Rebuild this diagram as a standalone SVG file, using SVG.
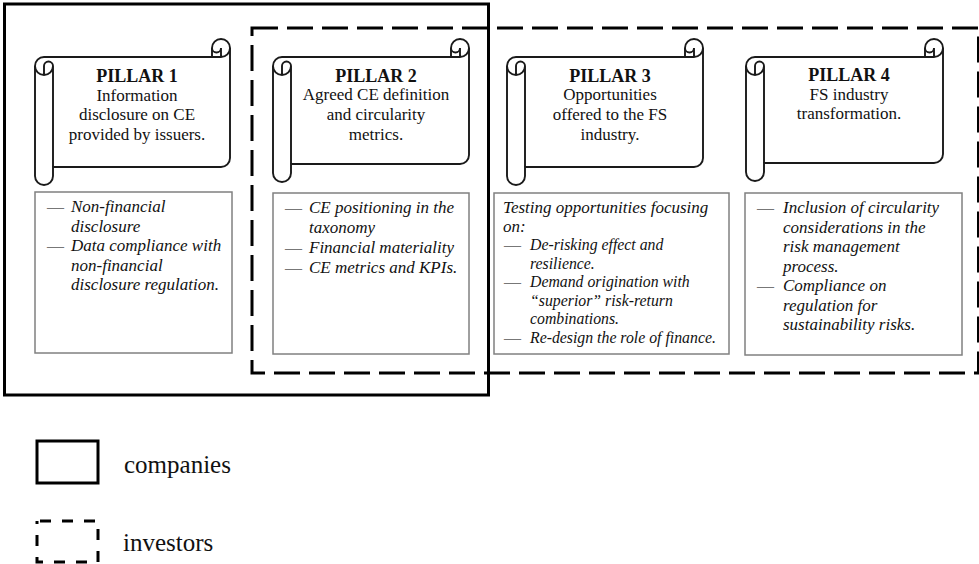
<svg xmlns="http://www.w3.org/2000/svg" width="979" height="564" viewBox="0 0 979 564">
<style>
.scroll{fill:#fff;stroke:#1a1a1a;stroke-width:1.9;stroke-linejoin:round}
.curl{fill:none;stroke:#1a1a1a;stroke-width:1.9}
.box{fill:#fff;stroke:#808080;stroke-width:1.5}
.solid{fill:none;stroke:#000;stroke-width:3}
.dashed{fill:none;stroke:#000;stroke-width:3;stroke-dasharray:26 9}
.title{font-family:"Liberation Serif",serif;font-weight:bold;font-size:18px;text-anchor:middle;fill:#111}
.sub{font-family:"Liberation Serif",serif;font-size:17px;text-anchor:middle;fill:#111}
.it{font-family:"Liberation Serif",serif;font-style:italic;font-size:17px;fill:#111}
.it2{font-family:"Liberation Serif",serif;font-style:italic;font-size:15.8px;fill:#111}
.dash{font-family:"Liberation Serif",serif;font-size:17px;fill:#777}
.leg{font-family:"Liberation Serif",serif;font-size:25px;fill:#111}
</style>
<rect width="979" height="564" fill="#fff"/>

<g id="investors-box">
<rect class="dashed" x="252" y="28" width="726.5" height="345"/>
</g>
<g id="companies-box">
<rect class="solid" x="4.5" y="4" width="484" height="391"/>
</g>

<g id="pillar1">
<g transform="translate(35,39)">
<path class="scroll" d="M0,27 A9,9 0 0 1 9,18 L177,18 L177,9 A9,9 0 0 1 195,9 L195,119 A9,9 0 0 1 186,128 L18,128 L18,137 A9,9 0 0 1 0,137 Z"/>
<path class="curl" d="M177,18 L186,18 A9,9 0 0 0 195,9 M186,18 L186,9 A4.5,4.5 0 0 1 177,9 M9,36 L9,27 A4.5,4.5 0 0 1 18,27 A9,9 0 0 1 0,27 M18,27 L18,128"/>
</g>
<text class="title" x="137" y="82">PILLAR 1</text>
<text class="sub" x="137" y="101">Information</text>
<text class="sub" x="137" y="120">disclosure on CE</text>
<text class="sub" x="137" y="140">provided by issuers.</text>
</g>

<g id="pillar1-detail">
<rect class="box" x="35" y="192" width="197" height="161"/>
<text class="dash" x="47" y="212">—</text>
<text class="it" x="71" y="212">Non-financial</text>
<text class="it" x="71" y="231.5">disclosure</text>
<text class="dash" x="47" y="251">—</text>
<text class="it" x="71" y="251">Data compliance with</text>
<text class="it" x="71" y="270.5">non-financial</text>
<text class="it" x="71" y="290">disclosure regulation.</text>
</g>

<g id="pillar2">
<g transform="translate(273,39)">
<path class="scroll" d="M0,27 A9,9 0 0 1 9,18 L178,18 L178,9 A9,9 0 0 1 196,9 L196,116 A9,9 0 0 1 187,125 L18,125 L18,134 A9,9 0 0 1 0,134 Z"/>
<path class="curl" d="M178,18 L187,18 A9,9 0 0 0 196,9 M187,18 L187,9 A4.5,4.5 0 0 1 178,9 M9,36 L9,27 A4.5,4.5 0 0 1 18,27 A9,9 0 0 1 0,27 M18,27 L18,125"/>
</g>
<text class="title" x="376" y="82">PILLAR 2</text>
<text class="sub" x="376" y="100">Agreed CE definition</text>
<text class="sub" x="376" y="120">and circularity</text>
<text class="sub" x="376" y="140">metrics.</text>
</g>

<g id="pillar2-detail">
<rect class="box" x="273" y="193" width="196" height="161"/>
<text class="dash" x="285" y="213">—</text>
<text class="it" x="309" y="213">CE positioning in the</text>
<text class="it" x="309" y="233">taxonomy</text>
<text class="dash" x="285" y="253">—</text>
<text class="it" x="309" y="253">Financial materiality</text>
<text class="dash" x="285" y="273">—</text>
<text class="it" x="309" y="273">CE metrics and KPIs.</text>
</g>

<g id="pillar3">
<g transform="translate(507,39)">
<path class="scroll" d="M0,27 A9,9 0 0 1 9,18 L178,18 L178,9 A9,9 0 0 1 196,9 L196,119 A9,9 0 0 1 187,128 L18,128 L18,137 A9,9 0 0 1 0,137 Z"/>
<path class="curl" d="M178,18 L187,18 A9,9 0 0 0 196,9 M187,18 L187,9 A4.5,4.5 0 0 1 178,9 M9,36 L9,27 A4.5,4.5 0 0 1 18,27 A9,9 0 0 1 0,27 M18,27 L18,128"/>
</g>
<text class="title" x="610" y="82">PILLAR 3</text>
<text class="sub" x="610" y="100">Opportunities</text>
<text class="sub" x="610" y="120">offered to the FS</text>
<text class="sub" x="610" y="140">industry.</text>
</g>

<g id="pillar3-detail">
<rect class="box" x="494" y="193" width="235" height="161"/>
<text class="it" x="503" y="213">Testing opportunities focusing</text>
<text class="it" x="503" y="231.5">on:</text>
<text class="dash" x="504" y="250">—</text>
<text class="it2" x="530" y="250">De-risking effect and</text>
<text class="it2" x="530" y="268.5">resilience.</text>
<text class="dash" x="504" y="287">—</text>
<text class="it2" x="530" y="287">Demand origination with</text>
<text class="it2" x="530" y="305.5">“superior” risk-return</text>
<text class="it2" x="530" y="324">combinations.</text>
<text class="dash" x="504" y="342.5">—</text>
<text class="it2" x="530" y="342.5">Re-design the role of finance.</text>
</g>

<g id="pillar4">
<g transform="translate(746,39)">
<path class="scroll" d="M0,27 A9,9 0 0 1 9,18 L179,18 L179,9 A9,9 0 0 1 197,9 L197,115 A9,9 0 0 1 188,124 L18,124 L18,133 A9,9 0 0 1 0,133 Z"/>
<path class="curl" d="M179,18 L188,18 A9,9 0 0 0 197,9 M188,18 L188,9 A4.5,4.5 0 0 1 179,9 M9,36 L9,27 A4.5,4.5 0 0 1 18,27 A9,9 0 0 1 0,27 M18,27 L18,124"/>
</g>
<text class="title" x="849" y="81">PILLAR 4</text>
<text class="sub" x="849" y="100">FS industry</text>
<text class="sub" x="849" y="119">transformation.</text>
</g>

<g id="pillar4-detail">
<rect class="box" x="745" y="193" width="217" height="162"/>
<text class="dash" x="757" y="213">—</text>
<text class="it" x="783" y="213">Inclusion of circularity</text>
<text class="it" x="783" y="232.5">considerations in the</text>
<text class="it" x="783" y="252">risk management</text>
<text class="it" x="783" y="271.5">process.</text>
<text class="dash" x="757" y="291">—</text>
<text class="it" x="783" y="291">Compliance on</text>
<text class="it" x="783" y="310.5">regulation for</text>
<text class="it" x="783" y="330">sustainability risks.</text>
</g>

<g id="legend">
<rect class="solid" x="37" y="441" width="61" height="42"/>
<text class="leg" x="124" y="473">companies</text>
<rect x="37" y="521" width="61" height="41" fill="none" stroke="#000" stroke-width="3" stroke-dasharray="11 11" stroke-dashoffset="-3"/>
<text class="leg" x="123" y="551">investors</text>
</g>
</svg>
